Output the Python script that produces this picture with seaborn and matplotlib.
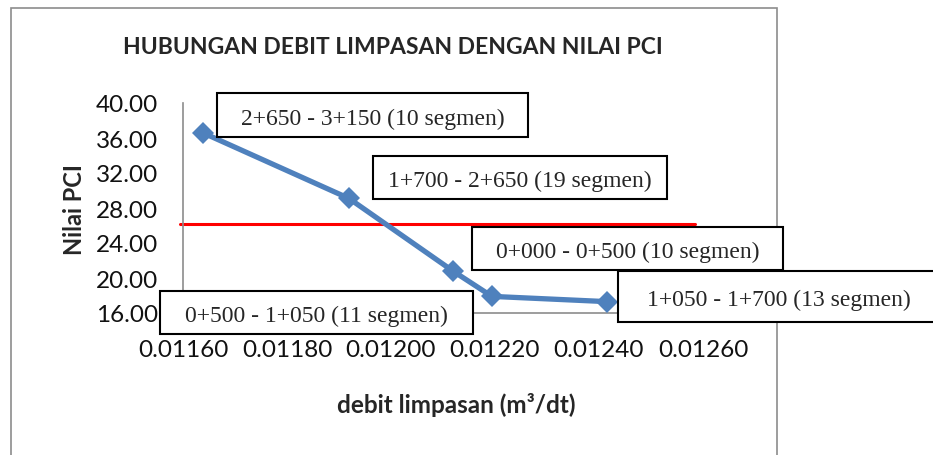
import pandas as pd
import matplotlib.pyplot as plt
import seaborn as sns
from matplotlib.patches import Rectangle

# Data
debit = [0.011638, 0.011919, 0.012119, 0.012194, 0.012415]
pci = [36.6, 29.1, 20.8, 17.9, 17.3]

# Garis batas PCI (merah)
batas_x = [0.011594, 0.012585]
batas_y = [26.15, 26.15]

segmen = ['2+650 - 3+150 (10 segmen)',
          '1+700 - 2+650 (19 segmen)',
          '0+000 - 0+500 (10 segmen)',
          '1+050 - 1+700 (13 segmen)',
          '0+500 - 1+050 (11 segmen)']

xticks = [0.0116, 0.0118, 0.0120, 0.0122, 0.0124, 0.0126]
yticks = [16, 20, 24, 28, 32, 36, 40]

df = pd.DataFrame({'debit': debit, 'pci': pci})

W, H = 933, 456
sns.set_style('white')
plt.rcParams['font.family'] = ['Lato', 'DejaVu Sans']

fig = plt.figure(figsize=(W / 100, H / 100), dpi=100)
ax = fig.add_axes([183 / W, 1 - 314 / H, (703 - 183) / W, (314 - 104) / H])

def px(x0, y0, x1, y1):
    return (x0 / W, 1 - y1 / H), (x1 - x0) / W, (y1 - y0) / H

# Bingkai luar
(xy, w, h) = px(11, 9, 777, 470)
fig.add_artist(Rectangle(xy, w, h, transform=fig.transFigure, fill=False,
                         edgecolor='#8c8c8c', linewidth=1.2, zorder=0))

ax.plot(batas_x, batas_y, color='#ff0000', linewidth=2.2, zorder=2, clip_on=False)
sns.lineplot(data=df, x='debit', y='pci', ax=ax, color='#4f81bd', linewidth=3.8,
             marker='D', markersize=11, markeredgewidth=0, zorder=3)

ax.set_xlim(0.0116, 0.0126)
ax.set_ylim(16, 40)
ax.set_xticks(xticks)
ax.set_yticks(yticks)
ax.set_xticklabels(['%.5f' % v for v in xticks])
ax.set_yticklabels(['%.2f' % v for v in yticks])
ax.tick_params(labelsize=17.5, length=0, labelcolor='#111111')
ax.tick_params(axis='x', pad=19)
ax.tick_params(axis='y', pad=18)
for s in ['top', 'right']:
    ax.spines[s].set_visible(False)
for s in ['left', 'bottom']:
    ax.spines[s].set_color('#8c8c8c')
    ax.spines[s].set_linewidth(1.2)
ax.set_xlabel('')
ax.set_ylabel('')

fig.text(393 / W, 1 - 47 / H, 'HUBUNGAN DEBIT LIMPASAN DENGAN NILAI PCI',
         ha='center', va='center', fontsize=16.5, fontweight='bold')
fig.text(456 / W, 1 - 405 / H, 'debit limpasan (m³/dt)',
         ha='center', va='center', fontsize=17.5, fontweight='bold')
fig.text(74 / W, 1 - 210 / H, 'Nilai PCI', rotation=90,
         ha='center', va='center', fontsize=17, fontweight='bold')

# Kotak keterangan segmen
kotak = [(217, 94, 528, 138), (373, 157, 667, 200), (472, 228, 783, 271),
         (618, 272, 940, 323), (160, 292, 473, 335)]
for label, (x0, y0, x1, y1) in zip(segmen, kotak):
    (xy, w, h) = px(x0, y0, x1, y1)
    fig.add_artist(Rectangle(xy, w, h, transform=fig.transFigure, facecolor='white',
                             edgecolor='black', linewidth=1.5, zorder=5))
    fig.text((x0 + x1) / 2 / W, 1 - ((y0 + y1) / 2 + 3) / H, label,
             ha='center', va='center', fontsize=17, family='Liberation Serif',
             zorder=6)

plt.savefig('out.png', dpi=100)
